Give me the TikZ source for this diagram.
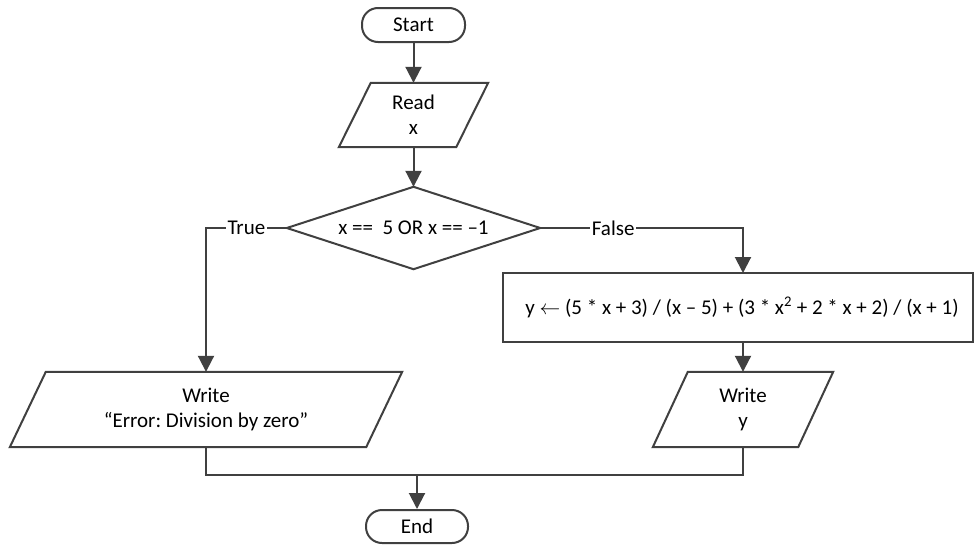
\documentclass[tikz,border=0pt]{standalone}
\usepackage{fontspec}
\setmainfont{Carlito}
\usetikzlibrary{arrows.meta}
\definecolor{ln}{HTML}{404040}
\frenchspacing
\tikzset{
  base/.style={font=\fontsize{21}{25}\selectfont, align=center, text=black},
  term/.style={base, draw=ln, line width=2pt, rounded corners=16pt, inner sep=0pt},
  ghost/.style={base, draw=none, inner sep=0pt},
  shp/.style={draw=ln, line width=2pt, fill=white, line join=miter},
  line/.style={draw=ln, line width=2pt},
  arr/.style={line, -{Triangle[length=16pt,width=16pt]}},
  lbl/.style={base, fill=white, inner sep=1.5pt}
}
\begin{document}
\begin{tikzpicture}[x=1pt,y=-1pt]
\useasboundingbox (0,0) rectangle (974,546);
\fill[white] (0,0) rectangle (974,546);

% Start
\node[term, minimum width=103pt, minimum height=34pt] (start) at (413.5,25) {Start};

% Read x
\node[ghost, minimum width=117pt, minimum height=64pt] (read) at (413.5,115) {};
\draw[shp] ([xshift=16pt]read.north west) -- ([xshift=16pt]read.north east)
  -- ([xshift=-16pt]read.south east) -- ([xshift=-16pt]read.south west) -- cycle;
\node[base] at (read) {Read\\x};

% Decision
\node[ghost, minimum width=253pt, minimum height=82pt] (dec) at (413.5,228) {};
\draw[shp] (dec.north) -- (dec.east) -- (dec.south) -- (dec.west) -- cycle;
\node[base] at (dec) {x ==\ \ 5 OR x == –1};

% Assignment
\node[ghost, draw=ln, line width=2pt, minimum width=470pt, minimum height=69pt] (asg) at (738,307.5) {};
\node[base] at ([xshift=4pt]asg.center)
  {y $\leftarrow$ (5 * x + 3) / (x – 5) + (3 * x\textsuperscript{2} + 2 * x + 2) / (x + 1)};

% Write error
\node[ghost, minimum width=356pt, minimum height=75pt] (err) at (206,409.5) {};
\draw[shp] ([xshift=18pt]err.north west) -- ([xshift=18pt]err.north east)
  -- ([xshift=-18pt]err.south east) -- ([xshift=-18pt]err.south west) -- cycle;
\node[base] at (err) {Write\\“Error: Division by zero”};

% Write y
\node[ghost, minimum width=145pt, minimum height=75pt] (outy) at (743,409.5) {};
\draw[shp] ([xshift=17.5pt]outy.north west) -- ([xshift=17.5pt]outy.north east)
  -- ([xshift=-17.5pt]outy.south east) -- ([xshift=-17.5pt]outy.south west) -- cycle;
\node[base] at (outy) {Write\\y};

% End
\node[term, minimum width=102pt, minimum height=33pt] (end) at (417,526.5) {End};

% connectors
\draw[arr] (start.south) -- (read.north);
\draw[arr] (read.south) -- (dec.north);
\draw[arr] (dec.west) -- node[lbl]{True} (dec.west -| err.north) -- (err.north);
\coordinate (fk) at (743,228);
\coordinate (ftop) at (743,273);
\draw[arr] (dec.east) -- node[lbl, pos=0.36]{False} (fk) -- (ftop);
\coordinate (fbot) at (743,342);
\draw[arr] (fbot) -- (outy.north);
\coordinate (m) at (417,475);
\draw[line] (err.south) |- (m);
\draw[line] (outy.south) |- (m);
\draw[arr] (m) -- (end.north);
\end{tikzpicture}
\end{document}
